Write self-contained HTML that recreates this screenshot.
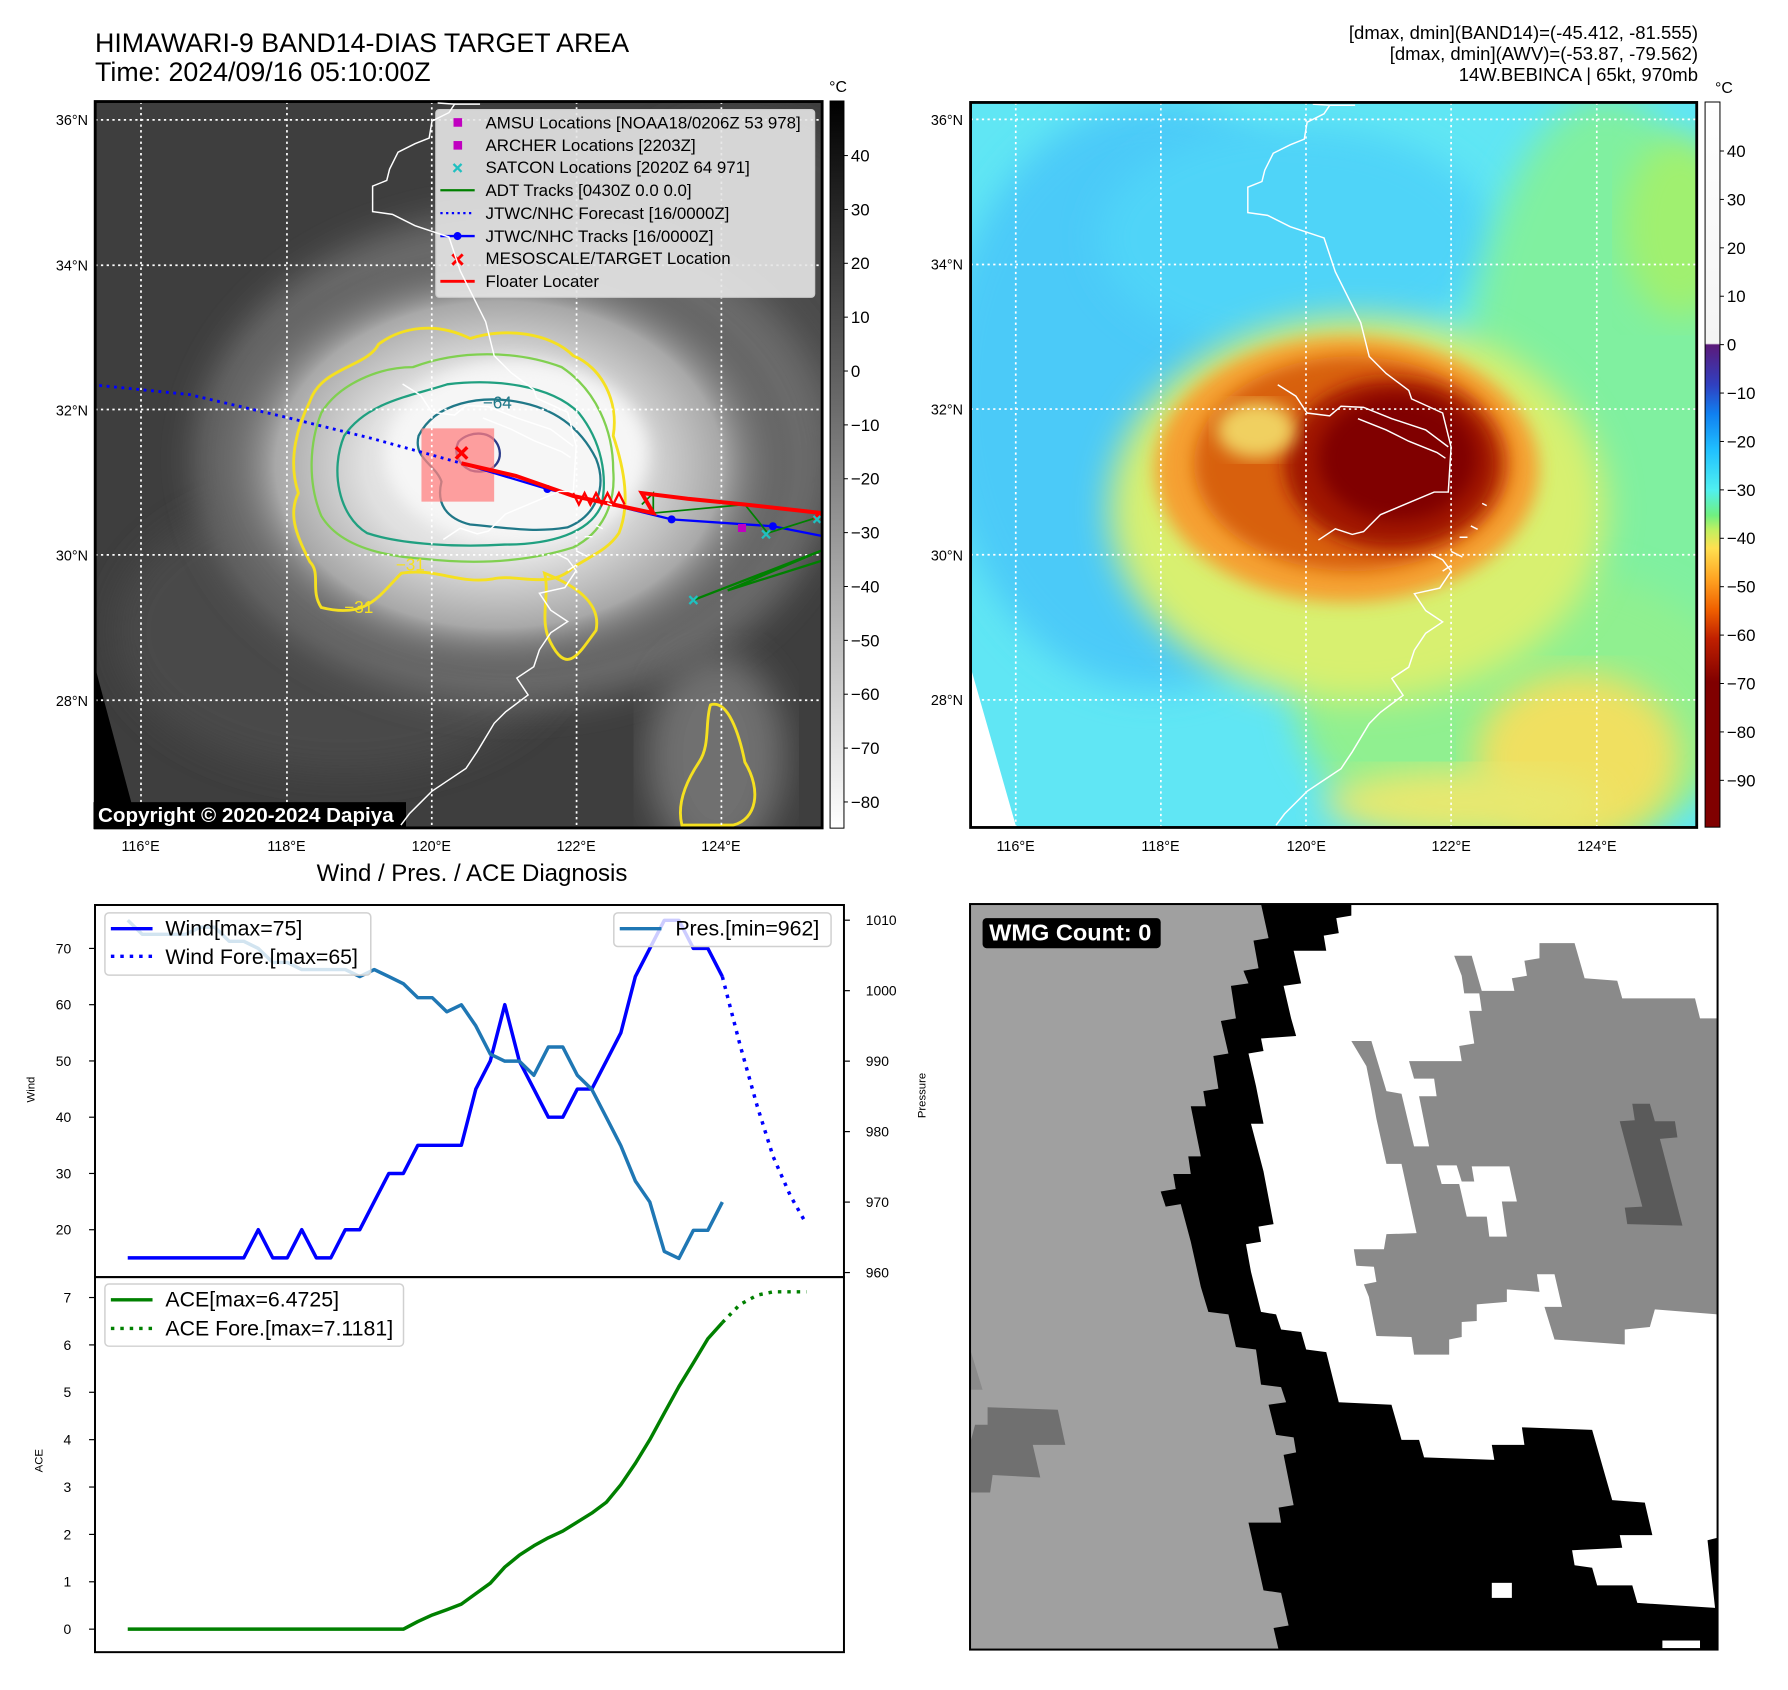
<!DOCTYPE html>
<html><head><meta charset="utf-8"><style>
html,body{margin:0;padding:0;background:#fff;}
svg{display:block;font-family:"Liberation Sans","DejaVu Sans",sans-serif;}
</style></head><body>
<svg id="page" width="1788" height="1690" viewBox="0 0 1788 1690" xmlns="http://www.w3.org/2000/svg">
<defs>
  <linearGradient id="cb1" x1="0" y1="0" x2="0" y2="1"><stop offset="0" stop-color="#000"/><stop offset="1" stop-color="#fff"/></linearGradient>
  <linearGradient id="cb2" x1="0" y1="0" x2="0" y2="1">
    <stop offset="0" stop-color="#fff"/><stop offset="0.333" stop-color="#f4f4f4"/>
    <stop offset="0.335" stop-color="#5b1a7a"/><stop offset="0.39" stop-color="#3040c0"/>
    <stop offset="0.43" stop-color="#1080f0"/><stop offset="0.48" stop-color="#20c0ff"/>
    <stop offset="0.535" stop-color="#50f0f0"/><stop offset="0.57" stop-color="#70f080"/>
    <stop offset="0.59" stop-color="#c0f060"/><stop offset="0.615" stop-color="#ffe050"/>
    <stop offset="0.66" stop-color="#ffa020"/><stop offset="0.70" stop-color="#f06000"/>
    <stop offset="0.74" stop-color="#c02000"/><stop offset="0.80" stop-color="#800000"/>
    <stop offset="1" stop-color="#800000"/>
  </linearGradient>
  <radialGradient id="cloud" cx="0.5" cy="0.5" r="0.5">
    <stop offset="0" stop-color="#f4f4f4"/><stop offset="0.45" stop-color="#e0e0e0"/>
    <stop offset="0.75" stop-color="#a8a8a8"/><stop offset="1" stop-color="#4a4a4a" stop-opacity="0"/>
  </radialGradient>
  <filter id="blur30"><feGaussianBlur stdDeviation="30"/></filter>
  <filter id="blur15"><feGaussianBlur stdDeviation="15"/></filter>
  <clipPath id="clip1"><rect x="165" y="176" width="1270" height="1269"/></clipPath>
  <clipPath id="clip2"><rect x="124" y="180" width="1286" height="1284"/></clipPath>
  <path id="coast" fill="none" stroke="#fff" stroke-width="2.6" d="M730,183 L760,185 750,200 720,215 715,245 690,255 660,270 645,300 640,320 615,330 615,375 650,380 690,400 750,420 770,480 790,520 815,570 830,630 860,660 900,690 905,705 960,730 975,790 970,870 945,870 850,910 820,940 800,945 770,935 740,955 M940,980 L960,990 975,1010 955,1040 910,1050 930,1080 960,1100 930,1120 910,1150 900,1180 870,1200 890,1230 850,1260 830,1280 800,1330 780,1360 750,1380 720,1400 700,1420 680,1440 665,1460 M668,680 L700,700 720,730 760,735 780,718 820,720 870,740 930,760 970,790 M810,740 L860,760 900,780 950,800 965,810 M760,185 L805,185 M1030,890 l8,4 M1010,930 l12,6 M990,950 l14,0 M975,975 l20,10 M960,1010 l15,-10"/>
</defs>

<!-- ============ TITLES ============ -->
<text x="95" y="52" font-size="26.8" fill="#000">HIMAWARI-9 BAND14-DIAS TARGET AREA</text>
<text x="95" y="81" font-size="26.8" fill="#000">Time: 2024/09/16 05:10:00Z</text>
<g font-size="18.5" text-anchor="end" fill="#000">
  <text x="1698" y="39">[dmax, dmin](BAND14)=(-45.412, -81.555)</text>
  <text x="1698" y="60">[dmax, dmin](AWV)=(-53.87, -79.562)</text>
  <text x="1698" y="81">14W.BEBINCA | 65kt, 970mb</text>
</g>

<g transform="translate(95,101) scale(0.992) translate(-95,-101)">
<!-- ============ MAP 1 (grayscale IR) ============ -->
<g transform="scale(0.5770)">
  <g clip-path="url(#clip1)">
    <rect x="165" y="176" width="1270" height="1269" fill="#3e3e3e"/>
    <ellipse cx="1300" cy="500" rx="300" ry="300" fill="#4c4c4c" filter="url(#blur30)"/>
    <ellipse cx="600" cy="1100" rx="400" ry="250" fill="#484848" filter="url(#blur30)"/>
    <ellipse cx="900" cy="800" rx="560" ry="430" fill="#6a6a6a" filter="url(#blur30)"/>
    <ellipse cx="870" cy="810" rx="520" ry="380" fill="url(#cloud)"/>
    <ellipse cx="900" cy="790" rx="230" ry="160" fill="#f6f6f6" filter="url(#blur15)"/>
    <ellipse cx="1250" cy="1320" rx="120" ry="180" fill="#707070" filter="url(#blur30)"/>
    <polygon points="165,1165 240,1445 165,1445" fill="#000"/>
    <path fill="none" stroke="#f5e020" stroke-width="5" d="M540,700 C560,640 640,640 660,600 C700,570 760,560 820,590 C880,570 960,580 1000,620 C1050,640 1080,700 1070,760 C1090,820 1100,880 1080,930 C1060,960 1030,970 1000,990 C960,1030 900,1000 860,1010 C800,1020 760,990 700,1000 C660,1040 640,1080 560,1060 C540,1030 560,1000 540,980 C520,940 500,900 520,860 C500,800 520,740 540,700 Z"/>
    <path fill="none" stroke="#f5e020" stroke-width="5" d="M950,1000 C1000,1020 1050,1050 1040,1100 C1010,1140 990,1180 960,1120 C940,1080 960,1040 950,1000 Z"/>
    <path fill="none" stroke="#f5e020" stroke-width="5" d="M1240,1230 C1270,1220 1290,1280 1300,1330 C1330,1380 1320,1430 1280,1440 L1190,1440 C1180,1400 1200,1360 1220,1330 C1240,1300 1230,1260 1240,1230 Z"/>
    <path fill="none" stroke="#80d050" stroke-width="4" d="M560,720 C590,670 660,640 720,640 C800,610 900,610 980,640 C1040,680 1070,750 1070,820 C1075,880 1050,930 1000,955 C920,980 830,985 740,975 C660,970 590,950 560,900 C535,840 540,770 560,720 Z"/>
    <path fill="none" stroke="#20a080" stroke-width="4" d="M600,760 C640,700 720,690 780,670 C860,660 960,670 1010,720 C1050,770 1060,830 1050,880 C1030,930 960,950 880,950 C800,955 700,950 640,930 C590,900 575,820 600,760 Z"/>
    <path fill="none" stroke="#207888" stroke-width="4" d="M730,760 C760,700 840,690 900,700 C960,710 1010,740 1040,800 C1060,850 1040,900 990,920 C930,930 880,920 820,915 C780,905 760,880 770,840 C760,810 720,800 730,760 Z"/>
    <path fill="none" stroke="#2a3a8a" stroke-width="4" d="M800,770 C820,750 860,750 870,780 C880,810 850,830 820,820 C800,810 790,790 800,770 Z"/>
    <text x="842" y="712" font-size="30" fill="#207888">−64</text>
    <text x="690" y="995" font-size="30" fill="#f5e020">−31</text>
    <text x="600" y="1070" font-size="30" fill="#f5e020">−31</text>
    <rect x="735" y="747" width="127" height="128" fill="#ff8080" fill-opacity="0.75"/>
    <g stroke="#fff" stroke-width="3" stroke-dasharray="4,6" fill="none">
      <path d="M245,176 V1445 M500,176 V1445 M753,176 V1445 M1006,176 V1445 M1259,176 V1445"/>
      <path d="M165,208 H1435 M165,462 H1435 M165,714 H1435 M165,968 H1435 M165,1222 H1435"/>
    </g>
    <polyline points="172,672 330,688 500,728 650,765 805,808" fill="none" stroke="#0000ff" stroke-width="5" stroke-dasharray="5,8"/>
    <polyline points="805,808 955,853 1172,906 1349,918 1435,935" fill="none" stroke="#0000ff" stroke-width="4"/>
    <g fill="#0000ff"><circle cx="955" cy="853" r="7"/><circle cx="1172" cy="906" r="7"/><circle cx="1349" cy="918" r="7"/></g>
    <polyline points="1210,1047 1435,960 1270,1030 1435,978" fill="none" stroke="#008000" stroke-width="4"/>
    <polyline points="1120,880 1140,860 1140,895 1300,880 1340,930 1435,900" fill="none" stroke="#008000" stroke-width="3"/>
    <polyline points="805,808 900,830 1000,865 1070,880 1140,895 1120,860 1200,870 1300,880 1435,895 1420,905" fill="none" stroke="#ff0000" stroke-width="7"/>
    <path d="M1000,860 l10,20 l10,-20 l10,20 l10,-20 l10,20 l10,-20 l10,20 l10,-20 l10,20" fill="none" stroke="#ff0000" stroke-width="4"/>
    <g stroke="#20c0c0" stroke-width="4"><path d="M1203,1040 l14,14 M1217,1040 l-14,14 M1330,925 l14,14 M1344,925 l-14,14 M1420,900 l12,12 M1432,900 l-12,12"/></g>
    <rect x="1288" y="914" width="14" height="14" fill="#c000c0"/>
    <path d="M795,780 l20,20 M815,780 l-20,20" stroke="#ff0000" stroke-width="6"/>
  </g>
  <rect x="165" y="176" width="1270" height="1269" fill="none" stroke="#000" stroke-width="5"/>
  <g>
    <rect x="760" y="190" width="662" height="328" rx="6" fill="#e6e6e6" fill-opacity="0.9" stroke="#cccccc" stroke-width="2"/>
    <g font-size="29.5" fill="#000">
      <rect x="791" y="205" width="15" height="15" fill="#c000c0"/><text x="847" y="223">AMSU Locations [NOAA18/0206Z 53 978]</text>
      <rect x="791" y="245" width="15" height="15" fill="#c000c0"/><text x="847" y="262">ARCHER Locations [2203Z]</text>
      <path d="M791,285 l14,14 M805,285 l-14,14" stroke="#20c0c0" stroke-width="4"/><text x="847" y="301">SATCON Locations [2020Z 64 971]</text>
      <path d="M768,331 H828" stroke="#008000" stroke-width="4"/><text x="847" y="341">ADT Tracks [0430Z 0.0 0.0]</text>
      <path d="M768,371 H828" stroke="#0000ff" stroke-width="4" stroke-dasharray="4,6"/><text x="847" y="381">JTWC/NHC Forecast [16/0000Z]</text>
      <path d="M768,411 H828" stroke="#0000ff" stroke-width="4"/><circle cx="798" cy="411" r="7" fill="#0000ff"/><text x="847" y="421">JTWC/NHC Tracks [16/0000Z]</text>
      <path d="M789,443 l18,18 M807,443 l-18,18" stroke="#ff0000" stroke-width="5"/><text x="847" y="460">MESOSCALE/TARGET Location</text>
      <path d="M768,490 H828" stroke="#ff0000" stroke-width="5"/><text x="847" y="500">Floater Locater</text>
    </g>
  </g>
  <rect x="162" y="1400" width="546" height="47" fill="#000"/>
  <text x="170" y="1435" font-size="36" font-weight="bold" fill="#fff">Copyright © 2020-2024 Dapiya</text>
</g>
<g transform="translate(24.3,-1.3) scale(0.570)"><g clip-path="url(#clip2)"><use href="#coast"/></g></g>
<g font-size="14.5" text-anchor="end" fill="#000">
  <text x="88" y="125">36°N</text><text x="88" y="272">34°N</text><text x="88" y="418">32°N</text><text x="88" y="564">30°N</text><text x="88" y="711">28°N</text>
</g>
<g font-size="14.5" text-anchor="middle" fill="#000">
  <text x="141" y="857">116°E</text><text x="288" y="857">118°E</text><text x="434" y="857">120°E</text><text x="580" y="857">122°E</text><text x="726" y="857">124°E</text>
</g>
<g>
  <rect x="836" y="101" width="14" height="733" fill="url(#cb1)" stroke="#000" stroke-width="1"/>
  <text x="844" y="92" font-size="16" text-anchor="middle">°C</text>
  <g id="cb1labels" font-size="17" fill="#000"></g>
</g>
</g>

<g transform="translate(971,102) scale(0.992) translate(-971,-102)">
<!-- ============ MAP 2 (color IR) ============ -->
<g transform="translate(900,0) scale(0.5692)">
  <g clip-path="url(#clip2)">
    <rect x="124" y="180" width="1286" height="1284" fill="#60e6f4"/>
    <ellipse cx="450" cy="700" rx="380" ry="520" fill="#4ccaf8" filter="url(#blur30)"/>
    <ellipse cx="700" cy="420" rx="350" ry="200" fill="#50d4f8" filter="url(#blur30)"/>
    <ellipse cx="1250" cy="820" rx="260" ry="650" fill="#80f0a0" filter="url(#blur30)"/>
    <ellipse cx="1100" cy="1250" rx="400" ry="250" fill="#90f090" filter="url(#blur30)"/>
    <ellipse cx="1380" cy="400" rx="100" ry="160" fill="#a0f070" filter="url(#blur30)"/>
    <ellipse cx="1200" cy="1340" rx="180" ry="150" fill="#f0e060" filter="url(#blur30)"/>
    <ellipse cx="1000" cy="1420" rx="250" ry="60" fill="#e8e870" filter="url(#blur30)"/>
    <ellipse cx="810" cy="900" rx="440" ry="340" fill="#d8f070" filter="url(#blur30)"/>
    <ellipse cx="790" cy="830" rx="340" ry="235" fill="#f5a030" filter="url(#blur15)"/>
    <ellipse cx="800" cy="820" rx="280" ry="190" fill="#d86010" filter="url(#blur15)"/>
    <ellipse cx="870" cy="820" rx="190" ry="150" fill="#a01800" filter="url(#blur15)"/>
    <ellipse cx="880" cy="810" rx="140" ry="110" fill="#800000" filter="url(#blur15)"/>
    <ellipse cx="630" cy="760" rx="70" ry="50" fill="#f0d060" filter="url(#blur15)"/>
    <polygon points="124,1180 205,1464 124,1464" fill="#fff"/>
    <g stroke="#fff" stroke-width="3" stroke-dasharray="4,6" fill="none">
      <path d="M204,180 V1464 M461,180 V1464 M718,180 V1464 M975,180 V1464 M1233,180 V1464"/>
      <path d="M124,210 H1410 M124,467 H1410 M124,723 H1410 M124,981 H1410 M124,1238 H1410"/>
    </g>
    <use href="#coast"/>
  </g>
  <rect x="124" y="180" width="1286" height="1284" fill="none" stroke="#000" stroke-width="5"/>
</g>
<g font-size="14.5" text-anchor="end" fill="#000">
  <text x="963" y="125">36°N</text><text x="963" y="271">34°N</text><text x="963" y="417">32°N</text><text x="963" y="564">30°N</text><text x="963" y="710">28°N</text>
</g>
<g font-size="14.5" text-anchor="middle" fill="#000">
  <text x="1016" y="857">116°E</text><text x="1162" y="857">118°E</text><text x="1309" y="857">120°E</text><text x="1455" y="857">122°E</text><text x="1602" y="857">124°E</text>
</g>
<g>
  <rect x="1711" y="102" width="15" height="731" fill="url(#cb2)" stroke="#000" stroke-width="1"/>
  <text x="1730" y="93" font-size="16" text-anchor="middle">°C</text>
  <g id="cb2labels" font-size="17" fill="#000"></g>
</g>
</g>

<!-- ============ WIND / PRES / ACE ============ -->
<text x="472" y="881" font-size="24" text-anchor="middle">Wind / Pres. / ACE Diagnosis</text>
<g transform="translate(95,905) scale(0.992,0.987) translate(-95,-905)">
<g id="chart"></g>
<rect x="95" y="905" width="755" height="377" fill="none" stroke="#000" stroke-width="2"/>
<rect x="95" y="1282" width="755" height="380" fill="none" stroke="#000" stroke-width="2"/>
<text transform="translate(34,1092) rotate(-90)" font-size="11.5" text-anchor="middle">Wind</text>
<text transform="translate(932,1098) rotate(-90)" font-size="11.5" text-anchor="middle">Pressure</text>
<text transform="translate(42,1468) rotate(-90)" font-size="11.5" text-anchor="middle">ACE</text>
<g>
  <rect x="105" y="913" width="268" height="63" rx="4" fill="#fff" fill-opacity="0.8" stroke="#d0d0d0" stroke-width="1.5"/>
  <path d="M111,929 H153" stroke="#0000ff" stroke-width="3.5"/>
  <path d="M111,957 H153" stroke="#0000ff" stroke-width="3.5" stroke-dasharray="3.5,6"/>
  <text x="166" y="936" font-size="21.5">Wind[max=75]</text>
  <text x="166" y="965" font-size="21.5">Wind Fore.[max=65]</text>
</g>
<g>
  <rect x="618" y="913" width="219" height="34" rx="4" fill="#fff" fill-opacity="0.8" stroke="#d0d0d0" stroke-width="1.5"/>
  <path d="M624,929 H666" stroke="#1f77b4" stroke-width="3.5"/>
  <text x="680" y="936" font-size="21.5">Pres.[min=962]</text>
</g>
<g>
  <rect x="105" y="1289" width="301" height="63" rx="4" fill="#fff" fill-opacity="0.8" stroke="#d0d0d0" stroke-width="1.5"/>
  <path d="M111,1305 H153" stroke="#008000" stroke-width="3.5"/>
  <path d="M111,1334 H153" stroke="#008000" stroke-width="3.5" stroke-dasharray="3.5,6"/>
  <text x="166" y="1312" font-size="21.5">ACE[max=6.4725]</text>
  <text x="166" y="1341" font-size="21.5">ACE Fore.[max=7.1181]</text>
</g>
</g>

<!-- ============ WMG PANEL ============ -->
<g transform="translate(960,890.5) scale(0.5017)">
  <rect x="20" y="27" width="1490" height="1486" fill="#a0a0a0"/>
  <polygon fill="#000" points="600,27 615,95 585,100 595,155 565,160 575,185 540,190 550,255 520,260 535,325 505,330 515,395 485,400 490,430 460,430 480,530 455,530 460,565 425,565 430,595 400,600 410,630 440,625 460,700 480,790 495,840 535,845 550,910 590,915 600,985 640,990 650,1020 615,1025 630,1085 665,1090 670,1120 645,1125 665,1225 635,1230 640,1260 575,1260 605,1395 640,1400 655,1465 625,1470 635,1513 1510,1513 1510,27"/>
  <polygon fill="#fff" points="780,27 1510,27 1510,1290 1490,1295 1505,1430 1350,1420 1340,1385 1270,1385 1260,1350 1225,1345 1220,1315 1320,1310 1315,1285 1380,1285 1365,1220 1300,1215 1260,1075 1120,1070 1125,1105 1060,1105 1065,1135 925,1130 915,1095 880,1095 860,1025 755,1020 730,920 690,915 680,880 640,875 630,845 600,840 580,760 570,705 600,700 595,670 625,665 605,560 580,465 605,465 590,390 575,325 605,320 600,295 670,290 660,255 645,190 680,185 665,120 730,120 725,90 755,85 750,55 780,50"/>
  <rect x="1060" y="1380" width="40" height="30" fill="#fff"/>
  <rect x="1400" y="1495" width="75" height="15" fill="#fff"/>
  <polygon fill="#8a8a8a" points="780,300 820,300 850,400 880,405 905,510 935,510 915,410 950,410 945,375 905,375 895,340 970,340 1000,340 995,310 1025,305 1015,240 1040,240 1035,205 1005,205 1000,170 985,130 1020,130 1040,200 1105,200 1100,175 1130,170 1125,140 1155,135 1155,105 1225,105 1245,175 1310,180 1320,215 1465,215 1475,255 1510,255 1510,845 1385,835 1375,870 1325,875 1325,905 1185,895 1165,830 1200,830 1185,765 1150,765 1155,800 1090,795 1090,820 1030,825 1030,858 1000,860 1000,890 975,895 975,925 905,925 900,890 830,888 815,810 805,785 830,780 825,750 790,748 785,715 845,715 850,685 910,683 880,545 850,545 830,455 820,400 810,350"/>
  <polygon fill="#fff" points="950,548 990,548 1000,580 1025,580 1020,550 1095,550 1110,620 1080,620 1090,690 1055,690 1050,650 1010,650 995,585 960,585"/>
  <polygon fill="#5a5a5a" points="1340,425 1375,425 1385,460 1425,460 1430,492 1395,495 1440,668 1330,665 1325,632 1360,630 1315,460 1345,458"/>
  <polygon fill="#707070" points="55,1030 195,1035 210,1105 145,1105 160,1170 65,1165 60,1200 22,1200 22,1095 30,1065 55,1065"/>
  <polygon fill="#8a8a8a" points="22,920 45,995 22,995"/>
  <rect x="20" y="27" width="1490" height="1486" fill="none" stroke="#000" stroke-width="4"/>
  <rect x="45" y="55" width="355" height="60" rx="8" fill="#000"/>
  <text x="58" y="100" font-size="47" font-weight="bold" fill="#fff">WMG Count: 0</text>
</g>
</svg>
<script>
// ---- chart data ----
const windObs = [15,15,15,15,15,15,15,15,15,20,15,15,20,15,15,20,20,25,30,30,35,35,35,35,45,50,60,50,45,40,40,45,45,50,55,65,70,75,75,70,70,65];
const presObs = [1010,1008,1008,1008,1008,1009,1009,1007,1007,1006,1004,1004,1003,1003,1003,1003,1002,1003,1002,1001,999,999,997,998,995,991,990,990,988,992,992,988,986,982,978,973,970,963,962,966,966,970];
const aceObs = [0,0,0,0,0,0,0,0,0,0,0,0,0,0,0,0,0,0,0,0,0.16,0.3,0.41,0.53,0.75,0.97,1.31,1.56,1.76,1.93,2.07,2.26,2.45,2.68,3.05,3.5,4.0,4.56,5.12,5.62,6.13,6.47];
const fcSteps = [41,42.2,43.4,44.5,45.7,46.8];
const windFc = [65,53,42,33,26,21];
const aceFc = [6.47,6.85,7.05,7.12,7.12,7.12];
const windTicks = [20,30,40,50,60,70];
const presTicks = [960,970,980,990,1000,1010];
const aceTicks = [0,1,2,3,4,5,6,7];
const cb1Ticks = [40,30,20,10,0,-10,-20,-30,-40,-50,-60,-70,-80];
const cb2Ticks = [40,30,20,10,0,-10,-20,-30,-40,-50,-60,-70,-80,-90];

const NS = 'http://www.w3.org/2000/svg';
const xS = i => 128 + i * 14.62;
const yW = v => 949 - (v - 70) * 5.7;
const yP = p => 920.4 - (p - 1010) * 7.14;
const yA = a => 1638.7 - a * 48;
const chart = document.getElementById('chart');
function mk(tag, attrs, parent) {
  const e = document.createElementNS(NS, tag);
  for (const k in attrs) e.setAttribute(k, attrs[k]);
  (parent || chart).appendChild(e);
  return e;
}
function line(xs, ys, color, dash, name) {
  const pts = xs.map((x, i) => x.toFixed(1) + ',' + ys[i].toFixed(1)).join(' ');
  const p = mk('polyline', {points: pts, fill: 'none', stroke: color, 'stroke-width': 3.5, 'stroke-linejoin': 'round'});
  if (dash) p.setAttribute('stroke-dasharray', '3.5,6');
  
  
}
const obsIdx = windObs.map((_, i) => i);
line(obsIdx.map(xS), windObs.map(yW), '#0000ff', false, 'wind-line');
line(fcSteps.map(xS), windFc.map(yW), '#0000ff', true, 'wind-forecast-line');
line(obsIdx.map(xS), presObs.map(yP), '#1f77b4', false, 'pressure-line');
line(obsIdx.map(xS), aceObs.map(yA), '#008000', false, 'ace-line');
line(fcSteps.map(xS), aceFc.map(yA), '#008000', true, 'ace-forecast-line');

function ticks(arr, yf, side) {
  arr.forEach(v => {
    const y = yf(v);
    const x0 = side === 'left' ? 95 : 850;
    const x1 = side === 'left' ? 89 : 856;
    const t = mk('line', {x1: x0, x2: x1, y1: y, y2: y, stroke: '#000', 'stroke-width': 1.2});
    
    
    const lab = mk('text', {x: side === 'left' ? 71 : 872, y: y + 5, 'font-size': 14, 'text-anchor': side === 'left' ? 'end' : 'start'});
    lab.textContent = v;
    
    
  });
}
ticks(windTicks, yW, 'left');
ticks(presTicks, yP, 'right');
ticks(aceTicks, yA, 'left');

function cbLabels(id, arr, yf, x, tx) {
  const g = document.getElementById(id);
  arr.forEach(v => {
    const y = yf(v);
    mk('line', {x1: tx, x2: tx + 4, y1: y, y2: y, stroke: '#000', 'stroke-width': 1}, g);
    const t = mk('text', {x: x, y: y + 6}, g);
    t.textContent = v < 0 ? '\u2212' + Math.abs(v) : String(v);
    
    
  });
}
cbLabels('cb1labels', cb1Ticks, v => 156 + (40 - v) * 5.43, 857, 850);
cbLabels('cb2labels', cb2Ticks, v => 151.4 + (40 - v) * 4.88, 1733, 1726);
</script>
</body></html>
